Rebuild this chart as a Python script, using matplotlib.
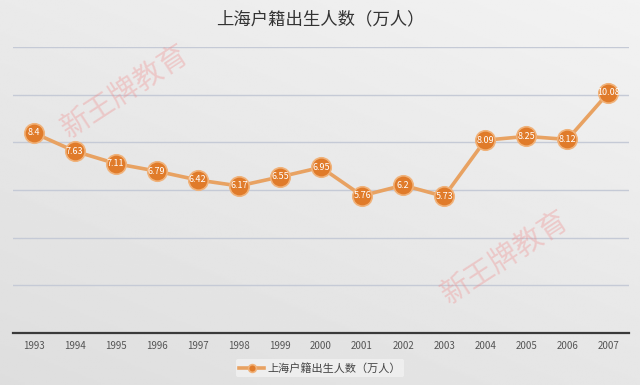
import matplotlib
matplotlib.use("Agg")
import matplotlib.pyplot as plt
import numpy as np

plt.rcParams['font.family'] = ['Noto Sans CJK SC', 'DejaVu Sans']

years = ['1993', '1994', '1995', '1996', '1997', '1998', '1999', '2000',
         '2001', '2002', '2003', '2004', '2005', '2006', '2007']
births = [8.4, 7.63, 7.11, 6.79, 6.42, 6.17, 6.55, 6.95,
          5.76, 6.2, 5.73, 8.09, 8.25, 8.12, 10.08]
value_labels = ['8.4', '7.63', '7.11', '6.79', '6.42', '6.17', '6.55', '6.95',
                '5.76', '6.2', '5.73', '8.09', '8.25', '8.12', '10.08']
series_name = '上海户籍出生人数（万人）'
title = '上海户籍出生人数（万人）'

fig = plt.figure(figsize=(6.4, 3.85), dpi=100)

# background gradient
bg = fig.add_axes([0, 0, 1, 1])
yy, xx = np.mgrid[0:1:200j, 0:1:300j]
grad = 0.87 + 0.08 * (0.6 * yy + 0.4 * xx)
bg.imshow(grad, cmap='gray', vmin=0, vmax=1, extent=[0, 1, 0, 1],
          aspect='auto', origin='lower')
bg.set_axis_off()

ax = fig.add_axes([13 / 640, 52 / 385, 616 / 640, 286 / 385])
ax.set_facecolor('none')
x = np.arange(len(years))
ax.set_xlim(-0.5, len(years) - 0.5)
ax.set_ylim(0, 12)
ax.set_yticks([0, 2, 4, 6, 8, 10, 12])
ax.yaxis.grid(True, color='#c5cad6', linewidth=1)
ax.set_axisbelow(True)
ax.tick_params(axis='y', left=False, labelleft=False)
ax.tick_params(axis='x', length=0, labelsize=7, labelcolor='#555555', pad=6)
ax.set_xticks(x)
ax.set_xticklabels(years)
for s in ['top', 'right', 'left']:
    ax.spines[s].set_visible(False)
ax.spines['bottom'].set_color('#3a3a3a')
ax.spines['bottom'].set_linewidth(1.6)

line, = ax.plot(x, births, color='#e8a262', linewidth=2.6, marker='o',
                markersize=14, markerfacecolor='#e07b2a',
                markeredgecolor='#f0b27a', markeredgewidth=1.2,
                label=series_name, zorder=3)
for xi, yi, lab in zip(x, births, value_labels):
    ax.text(xi, yi, lab, ha='center', va='center', fontsize=6.5,
            color='white', zorder=4)

fig.text(0.5, 1 - 19 / 385, title, ha='center', va='center', fontsize=12.5,
         color='#333333')

leg = fig.legend(handles=[line], loc='center', bbox_to_anchor=(0.5, 1 - 368 / 385),
                 frameon=True, fontsize=8, handlelength=2.2, markerscale=0.4,
                 borderpad=0.3, handletextpad=0.3)
leg.get_frame().set_facecolor('#f2f2f2')
leg.get_frame().set_edgecolor('none')
for t in leg.get_texts():
    t.set_color('#444444')

# watermarks
fig.text(125 / 640, 1 - 92 / 385, '新王牌教育', rotation=33, ha='center',
         va='center', fontsize=21, color='#f08c8c', alpha=0.35)
fig.text(505 / 640, 1 - 258 / 385, '新王牌教育', rotation=33, ha='center',
         va='center', fontsize=21, color='#f08c8c', alpha=0.35)

fig.savefig('out.png', dpi=100)
